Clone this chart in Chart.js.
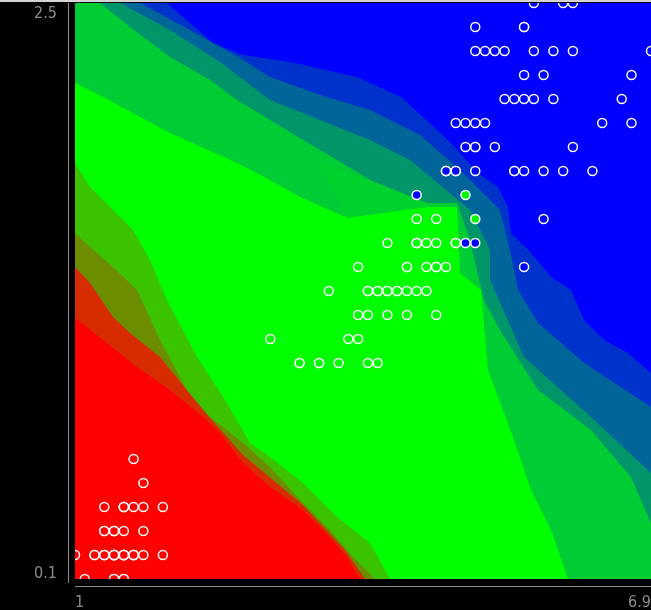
<!DOCTYPE html>
<html><head><meta charset="utf-8">
<script src="https://cdn.jsdelivr.net/npm/chart.js@4/dist/chart.umd.min.js"></script>
<style>html,body{margin:0;padding:0;background:#000;overflow:hidden}canvas{display:block}</style>
</head><body>
<canvas id="c" width="651" height="610"></canvas>
<script>
// ---- axis ticks ----
const xTickValues = [1, 6.9];
const xTickLabels = ['1', '6.9'];
const yTickValues = [0.1, 2.5];
const yTickLabels = ['0.1', '2.5'];

// ---- iris: petal length (x) / petal width (y) ----
const setosaLength = [1.4,1.4,1.3,1.5,1.4,1.7,1.4,1.5,1.4,1.5,1.5,1.6,1.4,1.1,1.2,1.5,1.3,1.4,1.7,1.5,1.7,1.5,1.0,1.7,1.9,1.6,1.6,1.5,1.4,1.6,1.6,1.5,1.5,1.4,1.5,1.2,1.3,1.4,1.3,1.5,1.3,1.3,1.3,1.6,1.9,1.4,1.6,1.4,1.5,1.4];
const setosaWidth  = [0.2,0.2,0.2,0.2,0.2,0.4,0.3,0.2,0.2,0.1,0.2,0.2,0.1,0.1,0.2,0.4,0.4,0.3,0.3,0.3,0.2,0.4,0.2,0.5,0.2,0.2,0.4,0.2,0.2,0.2,0.2,0.4,0.1,0.2,0.2,0.2,0.2,0.1,0.2,0.2,0.3,0.3,0.2,0.6,0.4,0.3,0.2,0.2,0.2,0.2];
const versicolorLength = [4.7,4.5,4.9,4.0,4.6,4.5,4.7,3.3,4.6,3.9,3.5,4.2,4.0,4.7,3.6,4.4,4.5,4.1,4.5,3.9,4.8,4.0,4.9,4.7,4.3,4.4,4.8,5.0,4.5,3.5,3.8,3.7,3.9,5.1,4.5,4.5,4.7,4.4,4.1,4.0,4.4,4.6,4.0,3.3,4.2,4.2,4.2,4.3,3.0,4.1];
const versicolorWidth  = [1.4,1.5,1.5,1.3,1.5,1.3,1.6,1.0,1.3,1.4,1.0,1.5,1.0,1.4,1.3,1.4,1.5,1.0,1.5,1.1,1.8,1.3,1.5,1.2,1.3,1.4,1.4,1.7,1.5,1.0,1.1,1.0,1.2,1.6,1.5,1.6,1.5,1.3,1.3,1.3,1.2,1.4,1.2,1.0,1.3,1.2,1.3,1.3,1.1,1.3];
const virginicaLength = [6.0,5.1,5.9,5.6,5.8,6.6,4.5,6.3,5.8,6.1,5.1,5.3,5.5,5.0,5.1,5.3,5.5,6.7,6.9,5.0,5.7,4.9,6.7,4.9,5.7,6.0,4.8,4.9,5.6,5.8,6.1,6.4,5.6,5.1,5.6,6.1,5.6,5.5,4.8,5.4,5.6,5.1,5.1,5.9,5.7,5.2,5.0,5.2,5.4,5.1];
const virginicaWidth  = [2.5,1.9,2.1,1.8,2.2,2.1,1.7,1.8,1.8,2.5,2.0,1.9,2.1,2.0,2.4,2.3,1.8,2.2,2.3,1.5,2.3,2.0,2.0,1.8,2.1,1.8,1.8,1.8,2.1,1.6,1.9,2.0,2.2,1.5,1.4,2.3,2.4,1.8,1.8,2.1,2.4,2.3,1.9,2.3,2.5,2.3,1.9,2.0,2.3,1.8];

// ---- decision regions (polygons in data units, painted bottom to top) ----
const regionBase = [[1,0.1],[6.9,0.1],[6.9,2.5],[1,2.5]];
const regionMidGreen = [[1,2.167],[1.287,2.108],[1.973,1.958],[2.659,1.833],[2.997,1.763],[3.305,1.692],[3.745,1.613],[4.606,1.65],[4.913,1.65],[4.944,1.375],[5.159,1.304],[5.23,0.971],[5.497,0.679],[5.671,0.471],[5.876,0.304],[6.05,0.1],[6.9,0.1],[6.9,2.5],[1,2.5]];
const regionLightGreen = [[3.479,1.846],[4.022,1.758],[4.606,1.663],[4.606,1.65],[3.786,1.604]];
const regionTeal = [[1.256,2.5],[1.563,2.4],[1.973,2.275],[2.383,2.179],[2.659,2.096],[2.997,2.013],[3.335,1.929],[3.684,1.846],[4.022,1.763],[4.329,1.713],[4.606,1.667],[4.913,1.667],[5.046,1.513],[5.189,1.263],[5.353,1.138],[5.743,0.888],[6.285,0.721],[6.695,0.525],[6.9,0.333],[6.9,2.5]];
const regionSteel = [[1.461,2.5],[1.973,2.388],[2.485,2.254],[2.997,2.096],[3.51,2.013],[4.022,1.929],[4.431,1.846],[4.739,1.742],[5.046,1.638],[5.251,1.471],[5.251,1.346],[5.599,1.025],[6.285,0.775],[6.9,0.542],[6.9,2.5]];
const regionDeepBlue = [[1.666,2.5],[2.178,2.388],[2.69,2.271],[2.997,2.192],[3.51,2.117],[4.022,2.054],[4.534,1.95],[4.944,1.804],[5.353,1.638],[5.456,1.471],[5.538,1.304],[5.743,1.167],[6.214,1.0],[6.9,0.817],[6.9,2.5]];
const regionBlue = [[1.942,2.5],[2.414,2.333],[2.721,2.283],[3.202,2.254],[3.889,2.192],[4.339,2.108],[4.677,1.983],[4.851,1.917],[5.128,1.792],[5.333,1.733],[5.435,1.65],[5.466,1.542],[5.671,1.458],[5.876,1.358],[6.081,1.304],[6.214,1.179],[6.419,1.096],[6.664,1.042],[6.9,0.958],[6.9,2.5]];
const regionYellowGreen = [[1,1.833],[1.154,1.733],[1.359,1.65],[1.594,1.554],[1.768,1.429],[1.942,1.263],[2.25,1.025],[2.557,0.833],[2.793,0.667],[2.997,0.608],[3.335,0.5],[3.684,0.358],[4.022,0.25],[4.227,0.1],[1,0.1]];
const regionOlive = [[1,1.542],[1.154,1.483],[1.389,1.4],[1.635,1.304],[1.871,1.096],[2.147,0.888],[2.383,0.775],[2.557,0.721],[2.721,0.667],[2.997,0.567],[3.335,0.417],[3.612,0.304],[3.848,0.192],[4.073,0.1],[1,0.1]];
const regionReddish = [[1,1.4],[1.154,1.333],[1.389,1.192],[1.563,1.125],[1.871,1.025],[2.311,0.804],[2.721,0.617],[3.335,0.408],[3.766,0.221],[3.97,0.1],[1,0.1]];
const regionRed = [[1,1.188],[1.287,1.096],[1.635,0.983],[1.973,0.888],[2.311,0.775],[2.485,0.708],[2.721,0.583],[2.997,0.483],[3.335,0.388],[3.54,0.304],[3.786,0.192],[3.919,0.1],[1,0.1]];

const layers = [
  [regionBase, '#00ff00'],
  [regionYellowGreen, '#3cc300'],
  [regionOlive, '#6d8d00'],
  [regionReddish, '#d62c00'],
  [regionRed, '#ff0000'],
  [regionMidGreen, '#00cc33'],
  [regionLightGreen, '#00d22d'],
  [regionTeal, '#00966a'],
  [regionSteel, '#006699'],
  [regionDeepBlue, '#0033cc'],
  [regionBlue, '#0000ff']
];

const toXY = (xs, ys) => xs.map((x, i) => ({x, y: ys[i]}));

const datasets = [];
// [x values, y values, fill colour, draw order (lower = on top)]
const pointSeries = [
  [setosaLength, setosaWidth, '#ff0000', 2],
  [versicolorLength, versicolorWidth, '#00ff00', 1],
  [virginicaLength, virginicaWidth, '#0000ff', 0]
];
pointSeries.forEach(([xs, ys, col, ord]) => {
  datasets.push({
    data: toXY(xs, ys), backgroundColor: col, borderColor: '#ffffff',
    borderWidth: 1.5, pointRadius: 4.5, pointHoverRadius: 4.5, order: ord, clip: 0
  });
});
layers.forEach(([poly, col], i) => {
  datasets.push({
    data: poly.map(p => ({x: p[0], y: p[1]})), showLine: true, fill: 'shape',
    backgroundColor: col, borderColor: col, borderWidth: 0, pointRadius: 0,
    pointHoverRadius: 0, tension: 0, order: 100 - i, clip: 0
  });
});

const FONT = "'Liberation Sans Narrow', 'DejaVu Sans Condensed', sans-serif";
const TXT = '#8c8c8c';

const axisLines = {
  id: 'axisLines',
  afterDraw(chart) {
    const {ctx, chartArea: a} = chart;
    ctx.save();
    ctx.strokeStyle = TXT; ctx.lineWidth = 1;
    ctx.beginPath();
    ctx.moveTo(a.left - 6.5, a.top); ctx.lineTo(a.left - 6.5, a.bottom + 4);
    ctx.moveTo(a.left, a.bottom + 7.5); ctx.lineTo(a.right, a.bottom + 7.5);
    ctx.stroke();
    ctx.fillStyle = '#d4d4d4';
    ctx.fillRect(0, 0, chart.width, 2);
    ctx.restore();
  }
};

new Chart(document.getElementById('c'), {
  type: 'scatter',
  data: {datasets},
  options: {
    responsive: false, animation: false, events: [],
    layout: {autoPadding: false, padding: {top: 3, right: 0, bottom: 0, left: 0}},
    plugins: {legend: {display: false}, tooltip: {enabled: false}},
    scales: {
      x: {
        type: 'linear', min: 1, max: 6.9, position: 'bottom',
        grid: {display: false}, border: {display: false},
        afterBuildTicks: s => { s.ticks = xTickValues.map(v => ({value: v})); },
        afterFit: s => { s.height = 31; s.paddingLeft = 0; s.paddingRight = 0; },
        ticks: {
          align: 'inner', padding: 6, color: TXT, maxRotation: 0, autoSkip: false,
          font: {family: FONT, size: 16},
          callback: (v, i) => xTickLabels[i]
        }
      },
      y: {
        type: 'linear', min: 0.1, max: 2.5, position: 'left',
        grid: {display: false}, border: {display: false},
        afterBuildTicks: s => { s.ticks = yTickValues.map(v => ({value: v})); },
        afterFit: s => { s.width = 75; s.paddingTop = 0; s.paddingBottom = 0; },
        ticks: {
          padding: 10, color: TXT, autoSkip: false,
          font: c => ({family: FONT, size: 16, lineHeight: c.index === 1 ? '22px' : '11px'}),
          callback: (v, i) => i === 0 ? [yTickLabels[0], ''] : ['', yTickLabels[1]]
        }
      }
    }
  },
  plugins: [axisLines]
});
</script>
</body></html>
